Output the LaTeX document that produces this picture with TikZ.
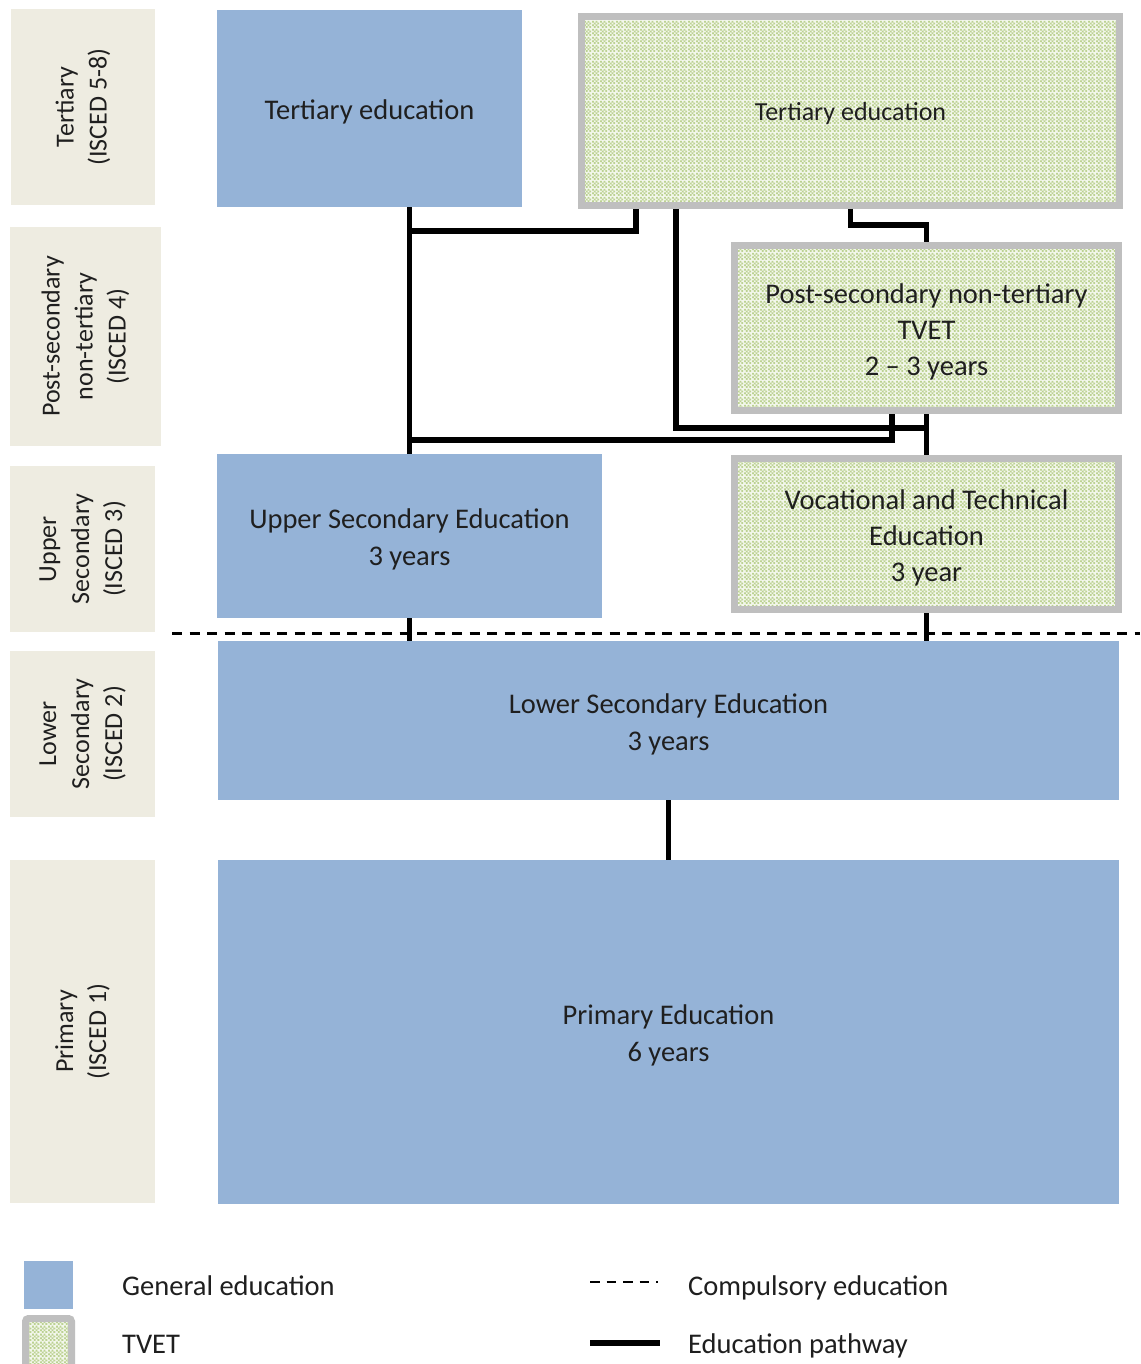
\documentclass[tikz,border=0pt]{standalone}
\usepackage{fontspec}
\setmainfont{Carlito}
\usetikzlibrary{patterns.meta}
\definecolor{genblue}{HTML}{95B3D7}
\definecolor{sidebeige}{HTML}{EEECE1}
\definecolor{tvetgray}{HTML}{BFBFBF}
\definecolor{tvetgreen}{HTML}{BCD292}
\definecolor{tvetbase}{HTML}{F3F7EC}
\definecolor{txt}{HTML}{1F1F1F}
\pgfdeclarepattern{
  name=tvetmesh, type=uncolored,
  bottom left={\pgfpoint{0pt}{0pt}}, top right={\pgfpoint{8pt}{8pt}},
  tile size={\pgfpoint{8pt}{8pt}},
  code={\pgfpathrectangle{\pgfpoint{2pt}{0pt}}{\pgfpoint{2pt}{2pt}}
        \pgfpathrectangle{\pgfpoint{6pt}{0pt}}{\pgfpoint{2pt}{2pt}}
        \pgfpathrectangle{\pgfpoint{0pt}{2pt}}{\pgfpoint{2pt}{2pt}}
        \pgfpathrectangle{\pgfpoint{4pt}{2pt}}{\pgfpoint{2pt}{2pt}}
        \pgfpathrectangle{\pgfpoint{2pt}{4pt}}{\pgfpoint{2pt}{2pt}}
        \pgfpathrectangle{\pgfpoint{6pt}{4pt}}{\pgfpoint{2pt}{2pt}}
        \pgfpathrectangle{\pgfpoint{0pt}{6pt}}{\pgfpoint{2pt}{2pt}}
        \pgfpathrectangle{\pgfpoint{4pt}{6pt}}{\pgfpoint{2pt}{2pt}}
        \pgfusepath{fill}}
}
\tikzset{
  maintext/.style={font=\fontsize{28.5}{37}\selectfont, text=txt},
  genbox/.style={fill=genblue, draw=none, inner sep=0pt},
  tvetbox/.style={draw=tvetgray, line width=7pt, preaction={fill=tvetbase},
                  pattern=tvetmesh, pattern color=tvetgreen, inner sep=0pt},
  boxtext/.style={inner sep=0pt, align=center, maintext},
  sidebox/.style={fill=sidebeige, draw=none, inner sep=0pt, align=center, rotate=90,
                  font=\fontsize{26}{33}\selectfont, text=txt},
  pathway/.style={line width=5.5pt, black},
  compulsory/.style={line width=3pt, black, dash pattern=on 10pt off 7.5pt},
  legtext/.style={anchor=base west, inner sep=0pt, maintext},
}
\begin{document}
\begin{tikzpicture}[x=1pt,y=-1pt]
\useasboundingbox[fill=white] (0,0) rectangle (1140,1364);

% side labels
\node[sidebox, minimum width=196pt, minimum height=144pt] (sT) at (83,107) {Tertiary\\(ISCED 5-8)};
\node[sidebox, minimum width=219pt, minimum height=151pt] (sP) at (85.5,336.5) {Post-secondary\\non-tertiary\\(ISCED 4)};
\node[sidebox, minimum width=166pt, minimum height=145pt] (sU) at (82.5,549) {Upper\\Secondary\\(ISCED 3)};
\node[sidebox, minimum width=166pt, minimum height=145pt] (sL) at (82.5,734) {Lower\\Secondary\\(ISCED 2)};
\node[sidebox, minimum width=343pt, minimum height=145pt] (sPr) at (82.5,1031.5) {Primary\\(ISCED 1)};

% compulsory line
\coordinate (dashL) at (172,633);
\coordinate (dashR) at (1140,633);
\draw[compulsory] (dashL) -- (dashR);

% general boxes
\node[genbox, minimum width=305pt, minimum height=197pt] (tertG) at (369.5,108.5) {};
\node[genbox, minimum width=385pt, minimum height=164pt] (upS) at (409.5,536) {};
\node[genbox, minimum width=901pt, minimum height=159pt] (lowS) at (668.5,720.5) {};
\node[genbox, minimum width=901pt, minimum height=344pt] (prim) at (668.5,1032) {};
\node[boxtext] (tertGt) at ([yshift=-3pt]tertG.center) {Tertiary education};
\node[boxtext] (upSt) at ([yshift=-3pt]upS.center) {Upper Secondary Education\\3 years};
\node[boxtext] (lowSt) at ([yshift=-3.5pt]lowS.center) {Lower Secondary Education\\3 years};
\node[boxtext] (primt) at ([yshift=-3pt]prim.center) {Primary Education\\6 years};

% TVET boxes
\node[tvetbox, minimum width=538pt, minimum height=189pt] (tertT) at (850.5,111) {};
\node[tvetbox, minimum width=384pt, minimum height=165pt] (post) at (926.5,328) {};
\node[tvetbox, minimum width=384pt, minimum height=151pt] (voc) at (926.5,534) {};
\node[boxtext, font=\fontsize{26}{34}\selectfont] (tertTt) at ([yshift=-3pt]tertT.center) {Tertiary education};
\node[boxtext, font=\fontsize{28.5}{36}\selectfont] (postt) at ([yshift=-3.5pt]post.center) {Post-secondary non-tertiary\\TVET\\2 -- 3 years};
\node[boxtext, font=\fontsize{28.5}{36}\selectfont] (voct) at ([yshift=-3.5pt]voc.center) {Vocational and Technical\\Education\\3 year};

% pathways
\coordinate (j1) at (636,231);
\coordinate (j2) at (676,428);
\coordinate (j3) at (892,440);
\draw[pathway] (upS.north |- tertG.south) -- (upS.north);
\draw[pathway] (upS.south) -- (upS.south |- lowS.north);
\draw[pathway] (j1 |- tertT.south) -- (j1) -- (j1 -| upS.north);
\draw[pathway] (j2 |- tertT.south) -- (j2) -- (j2 -| post.south);
\draw[pathway] (j3 |- post.south) -- (j3) -- (j3 -| upS.north);
\draw[pathway] (tertT.south) -- ++(0,16) -| (post.north);
\draw[pathway] (post.south) -- (voc.north);
\draw[pathway] (voc.south) -- (voc.south |- lowS.north);
\draw[pathway] (lowS.south) -- (prim.north);

% legend
\node[genbox, minimum width=49pt, minimum height=48pt] (legG) at (48.5,1285) {};
\node[tvetbox, minimum width=46pt, minimum height=50pt, rounded corners=3pt] (legT) at (48.5,1343.5) {};
\node[legtext] (legGt) at (122,1295) {General education};
\node[legtext] (legTt) at (122,1353) {TVET};
\coordinate (lgD1) at (590,1282);
\coordinate (lgD2) at (658,1282);
\coordinate (lgS1) at (590,1343);
\coordinate (lgS2) at (660,1343);
\draw[line width=2.5pt, black, dash pattern=on 9.5pt off 7pt] (lgD1) -- (lgD2);
\draw[line width=6pt, black] (lgS1) -- (lgS2);
\node[legtext] (legDt) at (688,1295) {Compulsory education};
\node[legtext] (legSt) at (688,1353) {Education pathway};
\end{tikzpicture}
\end{document}
